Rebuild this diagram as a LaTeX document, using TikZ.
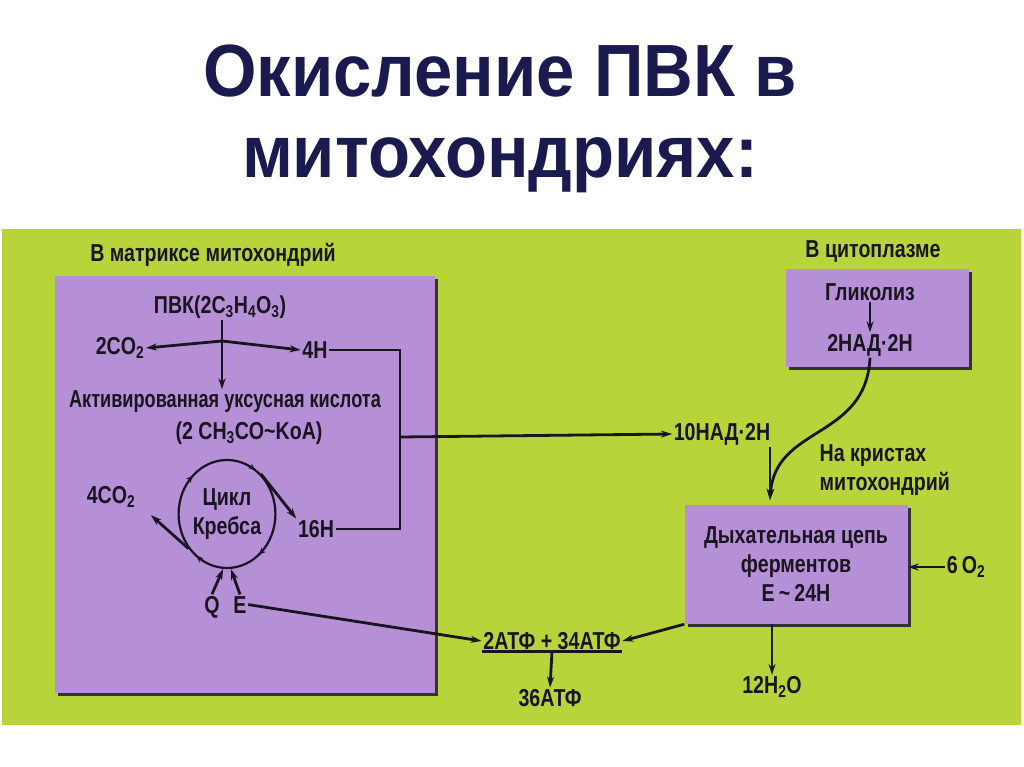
\documentclass[tikz,border=0pt]{standalone}
\usepackage{fontspec}
\setmainfont{Liberation Sans}
\newfontfamily\diafont[FakeStretch=0.8]{Liberation Sans}
\newfontfamily\tightfont[FakeStretch=0.74]{Liberation Sans}
\newfontfamily\headfont[FakeStretch=0.93]{Liberation Sans}
\usepackage{tikz}
\usetikzlibrary{arrows.meta, positioning, calc, shapes.geometric, shadows, decorations.markings}

\definecolor{leaf}{HTML}{B7D43A}
\definecolor{lilac}{HTML}{B690D6}
\definecolor{ink}{HTML}{1A1420}
\definecolor{navy}{HTML}{1B1A4F}

\begin{document}
\begin{tikzpicture}[x=1pt, y=-1pt, >={Stealth[length=11pt, width=7pt]},
  lbl/.style={font=\diafont\bfseries\fontsize{24.5}{29}\selectfont, text=ink, inner sep=1.5pt},
  head/.style={font=\headfont\bfseries\fontsize{74}{80}\selectfont, anchor=base},
  panel/.style={fill=lilac, inner sep=0pt,
    drop shadow={shadow xshift=3pt, shadow yshift=-3pt, fill=black!80, opacity=1}},
  link/.style={->, line width=2.8pt, draw=ink},
  cyclemark/.style={decorate, decoration={markings,
      mark=at position 0.155 with {\arrowreversed{Stealth[length=7pt,width=6pt]}},
      mark=at position 0.37 with {\arrowreversed{Stealth[length=7pt,width=6pt]}},
      mark=at position 0.645 with {\arrowreversed{Stealth[length=7pt,width=6pt]}},
      mark=at position 0.86 with {\arrowreversed{Stealth[length=7pt,width=6pt]}}}}]
  \useasboundingbox (0,0) rectangle (1024,767);
  \fill[white] (0,0) rectangle (1024,767);
  \fill[leaf] (2,229) rectangle (1021,725);

  % Title
  \node[head, text=navy] (title1) at (500,97) {Окисление ПВК в};
  \node[head, text=navy] (title2) at (500,178) {митохондриях:};

  % Panels
  \node[panel, minimum width=380pt, minimum height=417pt] (matrix) at (245,484.5) {};
  \node[panel, minimum width=183pt, minimum height=98pt] (cyto) at (877.5,318) {};
  \node[panel, minimum width=223pt, minimum height=119pt, lbl, align=center]
    (chain) at (796,564.5) {Дыхательная цепь\\ферментов\\E\,\textasciitilde\,24H};

  % Matrix of mitochondria
  \node[lbl] (mlabel) at (213,255) {В матриксе митохондрий};
  \node[lbl] (pvk) at (220,307) {ПВК(2C\textsubscript{3}H\textsubscript{4}O\textsubscript{3})};
  \node[lbl] (co2a) at (120,348) {2CO\textsubscript{2}};
  \node[lbl] (h4) at (315,350) {4H};
  \node[lbl, font=\tightfont\bfseries\fontsize{24.5}{29}\selectfont] (acid) at (225,402)
    {Активированная уксусная кислота};
  \node[lbl] (coa) at (249,433) {(2 CH\textsubscript{3}CO\textasciitilde KoA)};
  \node[lbl, draw=ink, line width=2.2pt, ellipse, minimum width=82pt, minimum height=108pt,
    inner sep=0pt, align=center, postaction={cyclemark}]
    (krebs) at (227,514) {Цикл\\Кребса};
  \node[lbl] (co2b) at (111,497) {4CO\textsubscript{2}};
  \node[lbl] (h16) at (316,529) {16H};
  \node[lbl, anchor=base] (q) at (212,613) {Q};
  \node[lbl, anchor=base] (e) at (240,613) {E};

  % Cytoplasm
  \node[lbl] (clabel) at (873,252) {В цитоплазме};
  \node[lbl] (glyc) at (870,292) {Гликолиз};
  \node[lbl] (nad2) at (870,345) {2НАД·2Н};

  % Crista side
  \node[lbl] (nad10) at (722,434) {10НАД·2Н};
  \node[lbl, anchor=west, align=left] (crista) at (818,470) {На кристах\\митохондрий};
  \node[lbl] (o2) at (966,567) {6\,O\textsubscript{2}};
  \node[lbl] (water) at (772,687) {12H\textsubscript{2}O};
  \node[lbl] (atp) at (552,641) {2АТФ + 34АТФ};
  \node[lbl] (atp36) at (550,698) {36АТФ};

  % Connectors
  \coordinate (fork) at (222,341);
  \coordinate (rail) at (400,437);
  \coordinate (join) at (770,500);
  \draw[link] (pvk.south -| fork) -- (fork |- acid.north);
  \draw[link] (fork) -- (co2a.east);
  \draw[link] (fork) -- (h4.west);
  \draw[line width=2.6pt, ink] (h4.east) -| (rail) |- (h16.east);
  \draw[link] (rail) -- (nad10.west);
  \draw[link] (krebs.222) -- ([shift={(14,6)}]co2b.south east);
  \draw[link] (krebs.50) -- (h16.north west);
  \draw[link] (q.north) -- (krebs.266);
  \draw[link] (e.north) -- (krebs.274);
  \draw[link] (e.east) -- (atp.west);
  \draw[link] (glyc.south) -- (nad2.north);
  \draw[link] (nad2.south) .. controls (866,440) and (775,425) .. (join);
  \draw[link] (join |- nad10.south) -- (join);
  \draw[link] (o2.west) -- (chain.east |- o2.west);
  \draw[link] (chain.south west) -- (atp.east);
  \draw[line width=2.8pt, ink] (atp.south west) -- (atp.south east);
  \draw[link] (atp.south) -- (atp36.north);
  \draw[link] (water.north |- chain.south) -- (water.north);
\end{tikzpicture}
\end{document}
